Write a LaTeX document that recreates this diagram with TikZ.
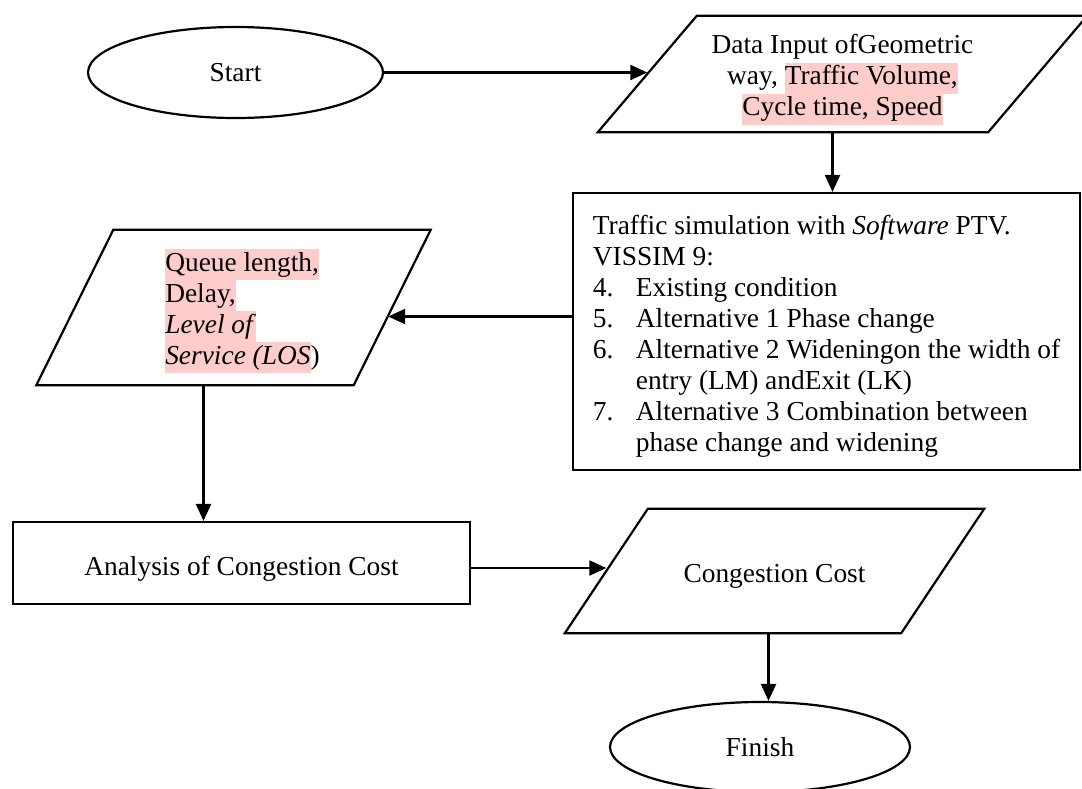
\documentclass[tikz,border=0pt]{standalone}
\usepackage{fontspec}
\setmainfont{Liberation Serif}
\usetikzlibrary{arrows.meta, shapes.geometric, calc}
\definecolor{hlpink}{RGB}{255,204,204}
\newcommand{\hlmark}[1]{{\setlength{\fboxsep}{0pt}\colorbox{hlpink}{\strut #1}}}
\newcommand{\itm}[1]{\makebox[43pt][l]{#1}}
\newcommand{\topgap}[1]{\rule{0pt}{#1}}% pushes a node text down a little

\begin{document}
\begin{tikzpicture}[x=1pt, y=-1pt, font=\fontsize{27.4}{31}\selectfont,
  line/.style={line width=2.2pt},
  arr/.style={line, -{Triangle[length=17pt, width=15pt]}},
  term/.style={line, draw, ellipse, inner sep=0pt},
  proc/.style={line, draw, rectangle, inner sep=0pt},
  io/.style={rectangle, inner sep=0pt}]
  \useasboundingbox (0,0) rectangle (1082,788);

  % Terminals
  \node (start) [term, minimum width=295pt, minimum height=91pt] at (235.5,72.5) {Start};
  \node (finish) [term, minimum width=300pt, minimum height=90pt] at (760,747) {Finish};

  % Data blocks (parallelograms drawn below)
  \node (input) [io, minimum width=390pt, minimum height=116pt, align=center] at (842.5,74)
    {\topgap{30pt}Data Input ofGeometric\\ way, \hlmark{Traffic Volume,}\\ \hlmark{Cycle time, Speed}};
  \node (result) [io, minimum width=317pt, minimum height=155pt, align=left] at (233.5,307.5)
    {\hspace*{18pt}\topgap{29.5pt}\hlmark{Queue length,}\\ \hspace*{18pt}\hlmark{Delay,}\\
     \hspace*{18pt}\hlmark{\textit{Level of}}\\ \hspace*{18pt}\hlmark{\textit{Service (LOS}})};
  \node (cost) [io, minimum width=336pt, minimum height=124pt] at (774.5,571) {\topgap{28.5pt}Congestion Cost};

  % Process boxes
  \node (process) [proc, minimum width=507pt, minimum height=277pt, align=left] at (826.5,331.5)
    {\topgap{28.5pt}Traffic simulation with \textit{Software} PTV.\\
     VISSIM 9:\\
     \itm{4.}Existing condition\\
     \itm{5.}Alternative 1 Phase change\\
     \itm{6.}Alternative 2 Wideningon the width of\\
     \itm{}entry (LM) andExit (LK)\\
     \itm{7.}Alternative 3 Combination between\\
     \itm{}phase change and widening};
  \node (analysis) [proc, minimum width=457pt, minimum height=82pt] at (241.5,563) {\topgap{30pt}Analysis of Congestion Cost};

  % parallelogram outlines
  \foreach \n/\s in {input/49.5, result/38.5, cost/41.5}
    \draw[line] ($(\n.south west)+(-\s,0)$) -- ($(\n.south east)+(-\s,0)$)
      -- ($(\n.north east)+(\s,0)$) -- ($(\n.north west)+(\s,0)$) -- cycle;

  % --- Flow arrows ---
  \draw[arr] (start.east) -- (start.east -| input.west);
  \draw[arr] ([xshift=-10pt]input.south) -- ([xshift=-10pt]input.south |- process.north);
  \draw[arr, shorten >=-4pt] ([yshift=15pt]process.west) -- ([yshift=15pt]process.west -| result.east);
  \draw[arr] ([xshift=-30pt]result.south) -- ([xshift=-30pt]result.south |- analysis.north);
  \draw[arr] ([yshift=-5pt]analysis.east) -- ([yshift=-5pt]analysis.east -| cost.west);
  \draw[arr] ([xshift=-6pt]cost.south) -- ([xshift=-6pt]cost.south |- finish.north);
\end{tikzpicture}
\end{document}
